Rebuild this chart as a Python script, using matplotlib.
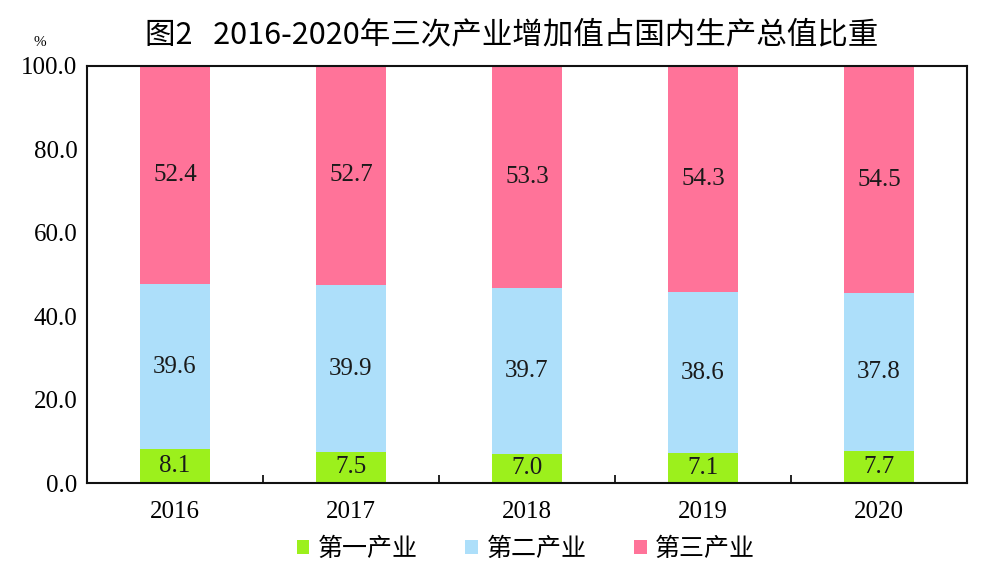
import numpy as np
import matplotlib
matplotlib.use("Agg")
import matplotlib.pyplot as plt

# Share of value added by sector (% of GDP)
years = ["2016", "2017", "2018", "2019", "2020"]
primary = [8.1, 7.5, 7.0, 7.1, 7.7]
secondary = [39.6, 39.9, 39.7, 38.6, 37.8]
tertiary = [52.4, 52.7, 53.3, 54.3, 54.5]
series_names = ["第一产业", "第二产业", "第三产业"]
yticks = [0, 20, 40, 60, 80, 100]

COLORS = ["#9CF01C", "#ADDFFA", "#FF7399"]
NUM_FONT = ["Liberation Serif", "DejaVu Serif"]
CJK_FONT = ["Noto Sans CJK SC", "DejaVu Sans"]

fig = plt.figure(figsize=(9.99, 5.87), dpi=100)
ax = fig.add_axes([87 / 999, 1 - 483 / 587, 880 / 999, 417 / 587])

x = np.arange(len(years))
width = 0.4
bottoms = np.zeros(len(years))
for vals, col, name in zip([primary, secondary, tertiary], COLORS, series_names):
    vals = np.array(vals)
    ax.bar(x, vals, width, bottom=bottoms, color=col, label=name, zorder=2)
    for xi, b, v in zip(x, bottoms, vals):
        ax.text(xi, b + v / 2, f"{v:.1f}", ha="center", va="center",
                fontsize=18, family=NUM_FONT, color="#1a1a1a", zorder=3)
    bottoms += vals

ax.set_xlim(-0.5, len(years) - 0.5)
ax.set_ylim(0, 100)
ax.set_xticks(x)
ax.set_xticklabels(years, fontsize=18, family=NUM_FONT)
ax.set_xticks(np.arange(len(years) - 1) + 0.5, minor=True)
ax.tick_params(axis="x", which="major", length=0, pad=13)
ax.tick_params(axis="x", which="minor", direction="in", length=6, width=1.2)
ax.set_yticks(yticks)
ax.set_yticklabels([f"{t:.1f}" for t in yticks], fontsize=18, family=NUM_FONT)
ax.tick_params(axis="y", length=0, pad=7)
for s in ax.spines.values():
    s.set_linewidth(1.5)
    s.set_color("#111111")

fig.text(40 / 999, 1 - 42 / 587, "%", fontsize=11, family=NUM_FONT,
         ha="center", va="center")
fig.text(512 / 999, 1 - 35 / 587, "图2   2016-2020年三次产业增加值占国内生产总值比重",
         fontsize=22, family=CJK_FONT, fontweight="medium", ha="center", va="center")

fig.legend(loc="center", bbox_to_anchor=(526 / 999, 1 - 549 / 587), ncol=3,
           frameon=False, prop={"family": CJK_FONT, "size": 18},
           handlelength=0.5, handleheight=0.5, handletextpad=0.35,
           columnspacing=1.9)

fig.savefig("out.png", dpi=100)
